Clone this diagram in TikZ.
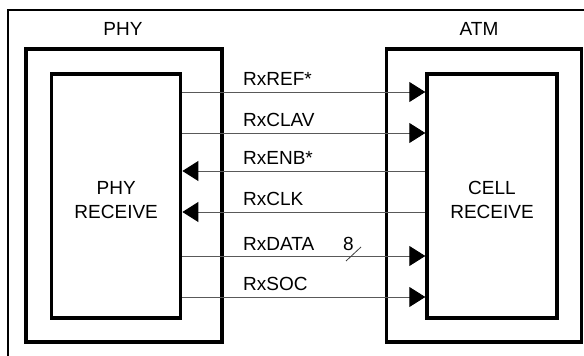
\documentclass[tikz,border=0pt]{standalone}
\usepackage{fontspec}
\setmainfont{Liberation Sans}
\usetikzlibrary{arrows.meta}
\tikzset{
  thickbox/.style={draw=black, line width=3.4pt, minimum width=#1, inner sep=0pt},
  sig/.style={draw=black!65, line width=0.9pt},
  tip/.style={-{Triangle[length=16pt,width=20pt,color=black]}},
  lbl/.style={anchor=base west, inner sep=0pt, font=\fontsize{19}{24}\selectfont},
  title/.style={anchor=base, inner sep=0pt, font=\fontsize{19}{24}\selectfont},
}
\begin{document}
\begin{tikzpicture}[x=1pt,y=-1pt]
\useasboundingbox (0,0) rectangle (584,356);
% outer frame
\coordinate (fbl) at (8,356);
\coordinate (ftl) at (8,10);
\coordinate (ftr) at (584,10);
\draw[line width=1.5pt] (fbl) -- (ftl) -- (ftr);
% boxes
\node[thickbox=196pt, minimum height=293pt] (phyout) at (124,195.5) {};
\node[thickbox=129pt, minimum height=244pt] (phyin) at (116.2,196) {};
\node[thickbox=195pt, minimum height=293pt] (atmout) at (484,195.5) {};
\node[thickbox=130pt, minimum height=244pt] (atmin) at (492,196) {};
\node[title] (rphy1) at (phyin.center |- 0,194) {PHY};
\node[title] (rphy2) at (phyin.center |- 0,218) {RECEIVE};
\node[title] (ratm1) at (atmin.center |- 0,194) {CELL};
\node[title] (ratm2) at (atmin.center |- 0,218) {RECEIVE};
\node[title] (tphy) at (123,35) {PHY};
\node[title] (tatm) at (479,35) {ATM};
% signals
\draw[sig,tip] (phyin.east |- 0,92) -- (atmin.west |- 0,92);
\draw[sig,tip] (phyin.east |- 0,133) -- (atmin.west |- 0,133);
\draw[sig,tip] (atmin.west |- 0,171) -- (phyin.east |- 0,171);
\draw[sig,tip] (atmin.west |- 0,212) -- (phyin.east |- 0,212);
\draw[sig,tip] (phyin.east |- 0,256) -- (atmin.west |- 0,256);
\draw[sig,tip] (phyin.east |- 0,297) -- (atmin.west |- 0,297);
\node[lbl] (l1) at (243,85) {RxREF*};
\node[lbl] (l2) at (243,126) {RxCLAV};
\node[lbl] (l3) at (243,164.5) {RxENB*};
\node[lbl] (l4) at (243,205) {RxCLK};
\node[lbl] (l5) at (243,250) {RxDATA};
\node[lbl] (l6) at (343,250) {8};
\coordinate (s1) at (346,261);
\coordinate (s2) at (361,247);
\draw[line width=0.8pt, black!75] (s1) -- (s2);
\node[lbl] (l7) at (243,290) {RxSOC};
\end{tikzpicture}
\end{document}
